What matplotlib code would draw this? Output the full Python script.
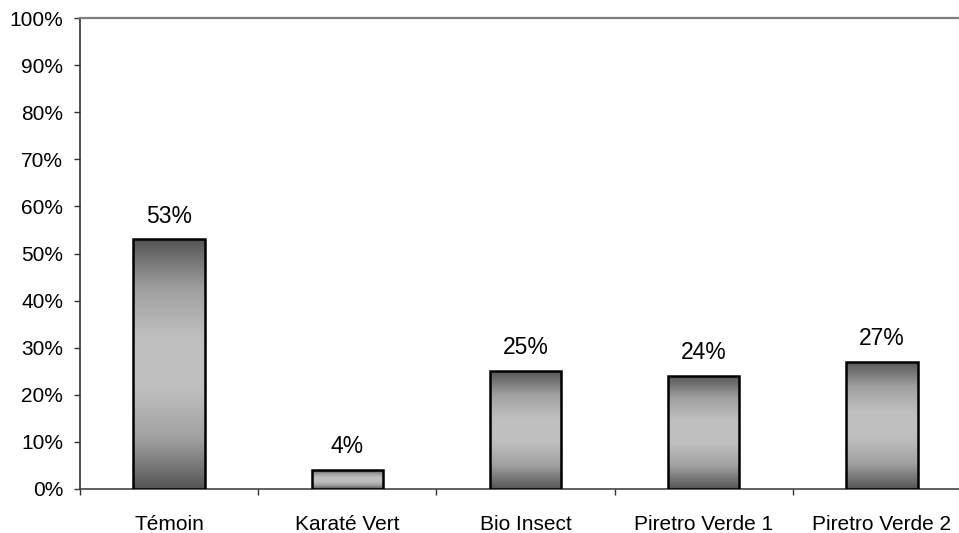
import numpy as np
import matplotlib
matplotlib.use('Agg')
import matplotlib.pyplot as plt
from matplotlib.colors import LinearSegmentedColormap

plt.rcParams['font.family'] = ['Liberation Sans', 'DejaVu Sans']

# Données
categories = ['Témoin', 'Karaté Vert', 'Bio Insect', 'Piretro Verde 1', 'Piretro Verde 2']
valeurs = [53, 4, 25, 24, 27]
yticks = list(range(0, 101, 10))

fig = plt.figure(figsize=(9.59, 5.33), dpi=100)
ax = fig.add_axes([80 / 959, 44 / 533, 891 / 959, 471 / 533])

x = np.arange(len(categories))
bars = ax.bar(x, valeurs, width=0.4, facecolor='none', edgecolor='black',
              linewidth=1.8, zorder=3)

# dégradé vertical : foncé en haut et en bas, clair au milieu
cmap = LinearSegmentedColormap.from_list('grad', ['#555555', '#a0a0a0', '#bfbfbf',
                                                  '#c0c0c0', '#a0a0a0', '#555555'])
grad = np.linspace(0, 1, 256).reshape(-1, 1)
for b in bars:
    x0, w, h = b.get_x(), b.get_width(), b.get_height()
    im = ax.imshow(grad, cmap=cmap, aspect='auto', extent=(x0, x0 + w, 0, h),
                   origin='lower', zorder=2)
    im.set_clip_path(b)

for xi, v in zip(x, valeurs):
    ax.annotate(f'{v}%', (xi, v), xytext=(0, 8.5), textcoords='offset points',
                ha='center', va='bottom', fontsize=16.5)

ax.set_xlim(-0.5, len(categories) - 0.5)
ax.set_ylim(0, 100)
ax.set_yticks(yticks)
ax.set_yticklabels([f'{t}%' for t in yticks], fontsize=15)

# graduations aux limites, étiquettes au centre
ax.set_xticks(np.arange(len(categories) + 1) - 0.5)
ax.set_xticklabels([])
ax.set_xticks(x, minor=True)
ax.set_xticklabels(categories, minor=True, fontsize=15)
ax.tick_params(axis='x', which='major', length=4.5, width=1, color='#333333')
ax.tick_params(axis='x', which='minor', length=0, pad=18.5)
ax.tick_params(axis='y', length=4, width=1, pad=8, color='#333333')

ax.spines['right'].set_visible(False)
ax.spines['top'].set_color('#7f7f7f')
ax.spines['top'].set_linewidth(1.6)
ax.spines['left'].set_color('#333333')
ax.spines['left'].set_linewidth(1.2)
ax.spines['bottom'].set_color('#444444')
ax.spines['bottom'].set_linewidth(1.2)

fig.savefig('out.png', dpi=100)
